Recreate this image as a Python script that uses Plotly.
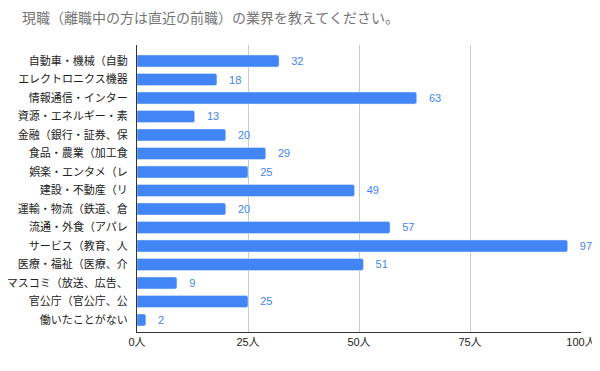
import plotly.graph_objects as go

title = "現職（離職中の方は直近の前職）の業界を教えてください。"
categories = [
    "自動車・機械（自動", "エレクトロニクス機器", "情報通信・インター", "資源・エネルギー・素",
    "金融（銀行・証券、保", "食品・農業（加工食", "娯楽・エンタメ（レ", "建設・不動産（リ",
    "運輸・物流（鉄道、倉", "流通・外食（アパレ", "サービス（教育、人", "医療・福祉（医療、介",
    "マスコミ（放送、広告、", "官公庁（官公庁、公", "働いたことがない",
]
values = [32, 18, 63, 13, 20, 29, 25, 49, 20, 57, 97, 51, 9, 25, 2]
tick_vals = [0, 25, 50, 75, 100]
tick_text = ["0人", "25人", "50人", "75人", "100人"]

font_family = "Liberation Sans, Arial, Noto Sans CJK JP, sans-serif"

# page has an 8px body margin; figure sized to fit the 600x371 window
W, H = 592, 363

fig = go.Figure(go.Bar(
    x=values, y=list(range(len(categories))), orientation="h",
    marker=dict(color="#4285F4", cornerradius=2),
    text=[str(v) for v in values], texttemplate="\u00a0\u00a0\u00a0%{text}",
    textposition="outside",
    textfont=dict(color="#4285F4", size=11, family=font_family),
    cliponaxis=False,
))

fig.update_layout(
    width=W, height=H,
    margin=dict(l=129, r=19, t=37, b=39, autoexpand=False),
    paper_bgcolor="white", plot_bgcolor="white",
    bargap=0.35,
    showlegend=False,
    font=dict(family=font_family, size=11, color="#222222"),
    title=dict(text=title, x=14/W, xanchor="left", y=1 - 10/H, yanchor="middle",
               font=dict(size=14, color="#757575", family=font_family)),
)
fig.update_xaxes(
    range=[0, 100], tickvals=tick_vals, ticktext=tick_text,
    showgrid=True, gridcolor="#cccccc", gridwidth=1,
    showline=True, linecolor="#333333", linewidth=1,
    zeroline=False, ticks="", tickfont=dict(size=11, color="#222222"),
    automargin=False,
)
fig.update_yaxes(
    range=[14.65, -0.865], tickvals=list(range(len(categories))), ticktext=categories,
    showline=True, linecolor="#333333", linewidth=1, showgrid=False,
    ticks="", ticklabelstandoff=6, tickfont=dict(size=11, color="#222222"),
    automargin=False,
)

fig.write_html("out.html")
